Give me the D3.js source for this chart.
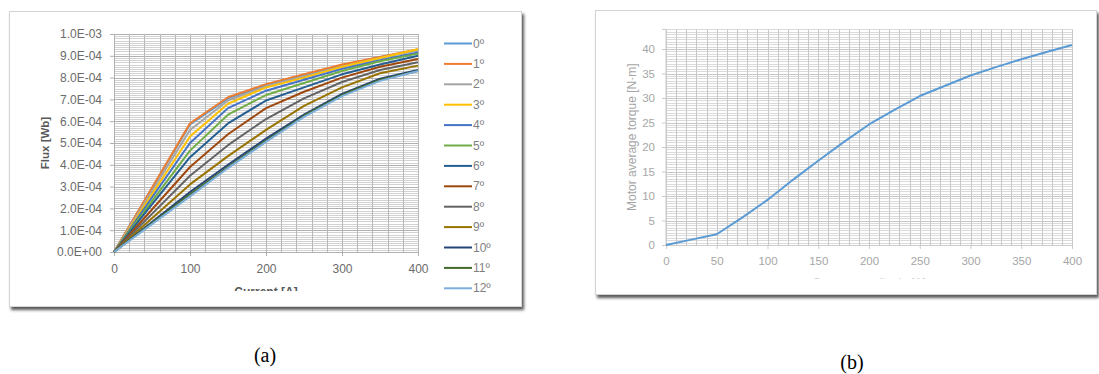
<!DOCTYPE html>
<html>
<head>
<meta charset="utf-8">
<script src="https://cdn.jsdelivr.net/npm/d3@7/dist/d3.min.js"></script>
<style>
  body { margin: 0; background: #fff; }
  svg { display: block; }
</style>
</head>
<body>
<svg id="fig" width="1099" height="374"></svg>
<script>
// ---- (a) flux linkage vs phase current, one curve per rotor angle ----
const currentA = [0, 50, 100, 150, 200, 250, 300, 350, 400];
const angleLabels = ["0º","1º","2º","3º","4º","5º","6º","7º","8º","9º","10º","11º","12º"];
const angleColors = ["#5B9BD5","#ED7D31","#A5A5A5","#FFC000","#4472C4","#70AD47",
                     "#255E91","#9E480E","#636363","#997300","#264478","#43682B","#7CAFDD"];
// flux in units of 1e-4 Wb, one row per angle, sampled at currentA
const flux0  = [0, 2.92, 5.85, 7.05, 7.65, 8.10, 8.55, 8.95, 9.25];
const flux1  = [0, 2.95, 5.90, 7.10, 7.70, 8.15, 8.60, 8.95, 9.30];
const flux2  = [0, 2.80, 5.60, 6.95, 7.60, 8.05, 8.50, 8.90, 9.25];
const flux3  = [0, 2.65, 5.30, 6.80, 7.55, 8.00, 8.50, 8.90, 9.30];
const flux4  = [0, 2.50, 5.00, 6.60, 7.40, 7.90, 8.40, 8.80, 9.15];
const flux5  = [0, 2.33, 4.65, 6.30, 7.20, 7.75, 8.30, 8.75, 9.10];
const flux6  = [0, 2.18, 4.35, 5.90, 6.95, 7.55, 8.15, 8.60, 9.00];
const flux7  = [0, 1.95, 3.90, 5.40, 6.60, 7.35, 8.00, 8.50, 8.85];
const flux8  = [0, 1.75, 3.50, 4.90, 6.10, 7.05, 7.80, 8.35, 8.70];
const flux9  = [0, 1.55, 3.10, 4.40, 5.60, 6.70, 7.55, 8.20, 8.55];
const flux10 = [0, 1.38, 2.75, 4.00, 5.20, 6.30, 7.25, 7.95, 8.35];
const flux11 = [0, 1.33, 2.65, 3.90, 5.10, 6.25, 7.20, 7.90, 8.30];
const flux12 = [0, 1.28, 2.55, 3.85, 5.05, 6.20, 7.15, 7.85, 8.30];
const fluxSeries = [flux0, flux1, flux2, flux3, flux4, flux5, flux6,
                    flux7, flux8, flux9, flux10, flux11, flux12];
const fluxTicks = [0,1e-4,2e-4,3e-4,4e-4,5e-4,6e-4,7e-4,8e-4,9e-4,1e-3];
const fluxTickLabels = ["0.0E+00","1.0E-04","2.0E-04","3.0E-04","4.0E-04","5.0E-04",
                        "6.0E-04","7.0E-04","8.0E-04","9.0E-04","1.0E-03"];
const currentTicksA = [0, 100, 200, 300, 400];

// ---- (b) average torque vs current ----
const currentB = [0,25,50,75,100,125,150,175,200,225,250,275,300,325,350,375,400];
const torque   = [0,1.1,2.2,5.6,9.2,13.3,17.2,21.0,24.6,27.6,30.4,32.5,34.6,36.3,37.9,39.4,40.8];
const torqueTicks = [0,5,10,15,20,25,30,35,40];
const currentTicksB = [0,50,100,150,200,250,300,350,400];

const svg = d3.select("#fig");
const sans = "'Liberation Sans', Arial, sans-serif";

// drop shadow for the two chart frames
const defs = svg.append("defs");
const sh = defs.append("filter").attr("id","shadow")
  .attr("x","-5%").attr("y","-5%").attr("width","112%").attr("height","115%");
sh.append("feDropShadow").attr("dx",2).attr("dy",3).attr("stdDeviation",1.6)
  .attr("flood-color","#333").attr("flood-opacity",0.8);

defs.append("clipPath").attr("id","clipA").append("rect")
  .attr("x",0).attr("y",0).attr("width",1099).attr("height",291);
defs.append("clipPath").attr("id","clipB").append("rect")
  .attr("x",0).attr("y",0).attr("width",1099).attr("height",278.5);

function frame(x, y, w, h) {
  svg.append("rect").attr("x",x).attr("y",y).attr("width",w).attr("height",h)
    .attr("fill","#fff").attr("stroke","#d4d4d4").attr("stroke-width",1)
    .attr("filter","url(#shadow)");
}
frame(9.5, 11.5, 512, 295);
frame(595.5, 10.5, 501, 284);

// ================= chart (a) =================
const xA = d3.scaleLinear().domain([0, 400]).range([114, 418]);
const yA = d3.scaleLinear().domain([0, 1e-3]).range([252, 34]);
const gA = svg.append("g");

// minor horizontal grid
gA.append("g").selectAll("line").data(d3.range(0, 101).map(i => i * 1e-5))
  .join("line")
  .attr("x1", xA(0)).attr("x2", xA(400))
  .attr("y1", d => Math.round(yA(d)) + 0.5).attr("y2", d => Math.round(yA(d)) + 0.5)
  .attr("stroke", (d, i) => i % 10 === 0 ? "#b0b0b0" : "#d2d2d2").attr("stroke-width", 1);
// vertical grid every 20 A
gA.append("g").selectAll("line").data(d3.range(0, 401, 20))
  .join("line")
  .attr("x1", d => Math.round(xA(d)) + 0.5).attr("x2", d => Math.round(xA(d)) + 0.5)
  .attr("y1", yA(1e-3)).attr("y2", yA(0))
  .attr("stroke", "#b8b8b8").attr("stroke-width", 1);

// axes
const axA_y = d3.axisLeft(yA).tickValues(fluxTicks)
  .tickFormat((d, i) => fluxTickLabels[i]).tickSize(4).tickPadding(8);
const gyA = gA.append("g").attr("transform", `translate(${xA(0)},0)`).call(axA_y);
const axA_x = d3.axisBottom(xA).tickValues(currentTicksA).tickSize(4).tickPadding(8);
const gxA = gA.append("g").attr("transform", `translate(0,${yA(0)})`).call(axA_x);
[gyA, gxA].forEach(g => {
  g.select(".domain").attr("stroke", "#b0b0b0");
  g.selectAll(".tick line").attr("stroke", "#b0b0b0");
  g.selectAll("text").attr("fill", "#6b6b6b").style("font-family", sans).style("font-size", "12px");
});

// curves
const lineA = d3.line().x((d, i) => xA(currentA[i])).y(d => yA(d * 1e-4));
gA.append("g").selectAll("path").data(fluxSeries).join("path")
  .attr("d", lineA).attr("fill", "none")
  .attr("stroke", (d, i) => angleColors[i]).attr("stroke-width", 2)
  .attr("stroke-linejoin", "round");

// axis titles
gA.append("text")
  .attr("transform", `translate(49,${(yA(0) + yA(1e-3)) / 2}) rotate(-90)`)
  .attr("text-anchor", "middle")
  .style("font-family", sans).style("font-size", "11.5px").style("font-weight", "bold")
  .attr("fill", "#595959").text("Flux [Wb]");
gA.append("text")
  .attr("x", (xA(0) + xA(400)) / 2).attr("y", 296)
  .attr("text-anchor", "middle").attr("clip-path", "url(#clipA)")
  .style("font-family", sans).style("font-size", "12px").style("font-weight", "bold")
  .attr("fill", "#595959").text("Current [A]");

// legend
const leg = gA.append("g").selectAll("g").data(angleLabels).join("g")
  .attr("transform", (d, i) => `translate(444,${43.5 + i * 20.4})`);
leg.append("line").attr("x1", 0).attr("x2", 28)
  .attr("stroke", (d, i) => angleColors[i]).attr("stroke-width", 2);
leg.append("text").attr("x", 29).attr("y", 4)
  .style("font-family", sans).style("font-size", "12px")
  .attr("fill", "#7f7f7f").text(d => d);

// ================= chart (b) =================
const xB = d3.scaleLinear().domain([0, 400]).range([666, 1072]);
const yB = d3.scaleLinear().domain([0, 40]).range([245, 49]);
const yTop = 44;
const gB = svg.append("g");

gB.append("g").selectAll("line").data(d3.range(0, yTop * 2 + 1).map(i => i * 0.5))
  .join("line")
  .attr("x1", xB(0)).attr("x2", xB(400))
  .attr("y1", d => Math.round(yB(d)) + 0.5).attr("y2", d => Math.round(yB(d)) + 0.5)
  .attr("stroke", (d, i) => i % 10 === 0 ? "#c6c6c6" : "#dadada").attr("stroke-width", 1);
gB.append("g").selectAll("line").data(d3.range(0, 401, 10))
  .join("line")
  .attr("x1", d => Math.round(xB(d)) + 0.5).attr("x2", d => Math.round(xB(d)) + 0.5)
  .attr("y1", yB(yTop)).attr("y2", yB(0))
  .attr("stroke", "#c8c8c8").attr("stroke-width", 1);

const axB_y = d3.axisLeft(yB).tickValues(torqueTicks).tickSize(4).tickPadding(7);
const gyB = gB.append("g").attr("transform", `translate(${xB(0)},0)`).call(axB_y);
const axB_x = d3.axisBottom(xB).tickValues(currentTicksB).tickSize(4).tickPadding(8);
const gxB = gB.append("g").attr("transform", `translate(0,${yB(0)})`).call(axB_x);
gyB.select(".domain").attr("d", `M-4,${yB(yTop)}H0V${yB(0)}`);
[gyB, gxB].forEach(g => {
  g.select(".domain").attr("stroke", "#cccccc");
  g.selectAll(".tick line").attr("stroke", "#cccccc");
  g.selectAll("text").attr("fill", "#a6a6a6").style("font-family", sans).style("font-size", "11.5px");
});

const lineB = d3.line().x((d, i) => xB(currentB[i])).y(d => yB(d));
gB.append("path").datum(torque).attr("d", lineB)
  .attr("fill", "none").attr("stroke", "#5B9BD5").attr("stroke-width", 2)
  .attr("stroke-linejoin", "round");

gB.append("text")
  .attr("transform", `translate(636,${(yB(0) + yB(yTop)) / 2}) rotate(-90)`)
  .attr("text-anchor", "middle")
  .style("font-family", sans).style("font-size", "12px")
  .attr("fill", "#a6a6a6").text("Motor average torque [N·m]");
gB.append("text")
  .attr("x", (xB(0) + xB(400)) / 2).attr("y", 287)
  .attr("text-anchor", "middle").attr("clip-path", "url(#clipB)")
  .style("font-family", sans).style("font-size", "12px")
  .attr("fill", "#a6a6a6").text("Current amplitude [A]");

// ---- sub-figure captions ----
const serif = "'Liberation Serif', 'Times New Roman', serif";
svg.append("text").attr("x", 265).attr("y", 362).attr("text-anchor", "middle")
  .style("font-family", serif).style("font-size", "20px").attr("fill", "#000").text("(a)");
svg.append("text").attr("x", 852).attr("y", 369).attr("text-anchor", "middle")
  .style("font-family", serif).style("font-size", "20px").attr("fill", "#000").text("(b)");
</script>
</body>
</html>
